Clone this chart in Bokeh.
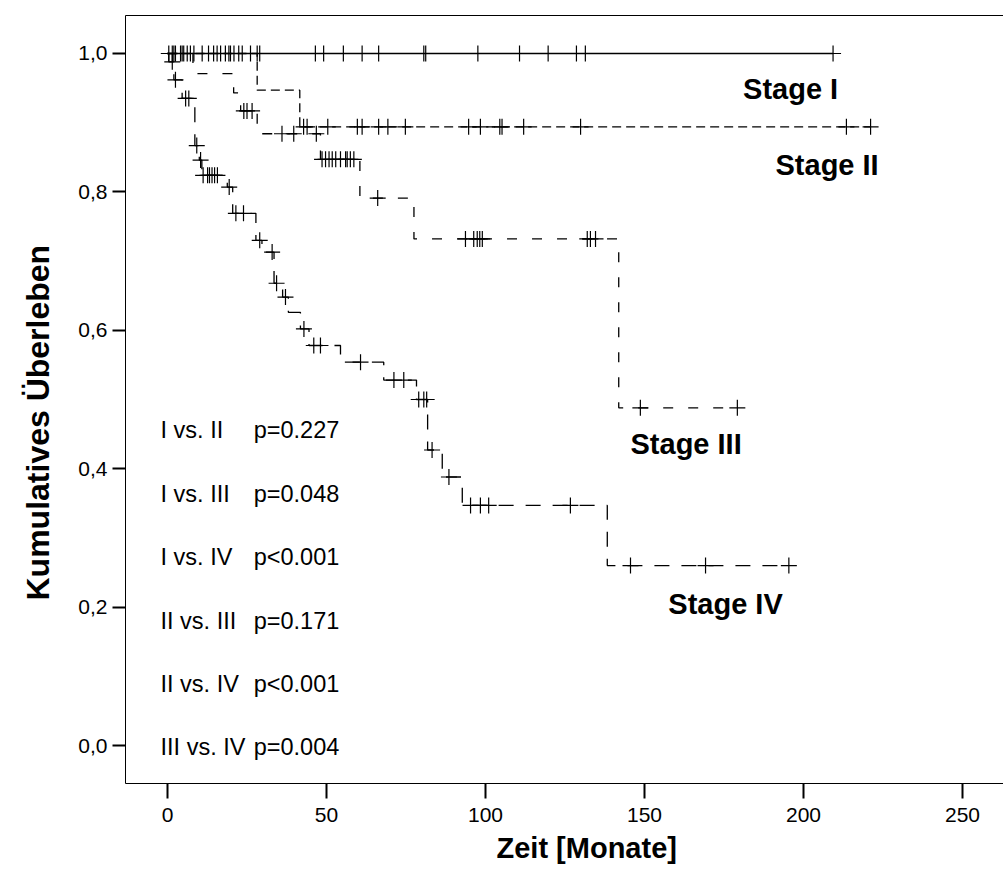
import numpy as np
from bokeh.plotting import figure
from bokeh.models import Range1d, FixedTicker, CustomJSTickFormatter, LinearAxis, Title
from bokeh.core.properties import value
from bokeh.embed import file_html
from bokeh.resources import INLINE

FONT = "Liberation Sans"

# ---------------- data (months, cumulative survival) ----------------
stage1_end = 209.3
stage1_censor = [0.4, 1.5, 2.0, 2.5, 4.1, 4.6, 5.1, 6.2, 7.2, 8.3, 10.9, 12.9, 14.5, 15.6,
                 16.7, 18.2, 19.3, 19.8, 20.9, 22.4, 23.5, 26.1, 28.2, 29.0, 46.5, 49.1,
                 55.3, 61.2, 66.4, 80.6, 81.2, 97.6, 110.7, 119.7, 128.6, 131.4, 209.3]

stage2_times = [28.2, 41.6]
stage2_surv = [0.947, 0.894]
stage2_end = 221.1
stage2_censor = [42.8, 43.9, 50.4, 59.7, 61.2, 66.4, 69.3, 74.8, 94.7, 98.4, 104.5, 105.2,
                 112.0, 129.9, 213.5, 221.1]

stage3_times = [8.0, 20.8, 23.0, 28.2, 48.1, 60.5, 77.5, 141.9]
stage3_surv = [0.971, 0.943, 0.917, 0.884, 0.847, 0.791, 0.732, 0.488]
stage3_end = 179.2
stage3_censor = [24.0, 25.0, 26.6, 36.0, 39.7, 46.8, 48.6, 49.7, 50.8, 51.8, 52.9, 54.4, 56.0,
                 56.5, 57.5, 58.6, 66.1, 93.7, 96.3, 97.4, 98.2, 99.0, 132.0, 133.0, 134.6,
                 148.7, 179.2]

stage4_times = [0.4, 2.0, 4.6, 8.6, 10.0, 10.8, 18.8, 20.5, 27.8, 29.7, 33.5, 36.2, 38.0,
                41.8, 44.5, 54.4, 68.0, 78.3, 81.8, 86.4, 92.7, 138.3]
stage4_surv = [0.988, 0.962, 0.935, 0.867, 0.846, 0.824, 0.807, 0.769, 0.730, 0.713, 0.668,
               0.648, 0.626, 0.602, 0.578, 0.554, 0.528, 0.500, 0.427, 0.388, 0.347, 0.260]
stage4_end = 195.4
stage4_censor = [1.5, 2.5, 5.7, 6.7, 9.2, 10.4, 11.2, 12.6, 13.2, 14.0, 14.8, 15.7, 19.4,
                 21.5, 23.9, 29.0, 32.9, 34.3, 37.1, 42.9, 46.0, 48.1, 60.7, 71.2, 74.3, 79.0,
                 80.6, 81.5, 83.2, 88.5, 95.3, 98.4, 101.0, 126.7, 145.6, 169.2, 195.4]

stage_labels = ["Stage I", "Stage II", "Stage III", "Stage IV"]
stage_label_x = [181.0, 191.2, 145.6, 157.5]
stage_label_y = [0.948, 0.839, 0.436, 0.205]

cmp_labels = ["I vs. II", "I vs. III", "I vs. IV", "II vs. III", "II vs. IV", "III vs. IV"]
cmp_pvalues = ["p=0.227", "p=0.048", "p<0.001", "p=0.171", "p<0.001", "p=0.004"]

y_ticks = [0.0, 0.2, 0.4, 0.6, 0.8, 1.0]
x_ticks = [0, 50, 100, 150, 200, 250]

x_title = "Zeit [Monate]"
y_title = "Kumulatives Überleben"


def step_xy(times, surv, end):
    xs = [0.0] + list(times) + [end]
    ys = [1.0] + list(surv) + [surv[-1] if surv else 1.0]
    return xs, ys


def surv_at(times, surv, t):
    t_arr = np.asarray(times)
    s_arr = np.asarray([1.0] + list(surv))
    idx = np.searchsorted(t_arr, np.asarray(t), side="right")
    return s_arr[idx]


p = figure(width=1003, height=874, output_backend="svg", toolbar_location=None,
           x_range=Range1d(-13.21, 262.9), y_range=Range1d(-0.0549, 1.0549),
           min_border_left=125, min_border_right=0, min_border_top=15, min_border_bottom=91)
p.outline_line_color = None
p.xgrid.visible = False
p.ygrid.visible = False
p.background_fill_color = None
p.border_fill_color = "white"

xa = p.below[0]
ya = p.left[0]
xa.ticker = FixedTicker(ticks=x_ticks)
ya.ticker = FixedTicker(ticks=y_ticks)
ya.formatter = CustomJSTickFormatter(code="return tick.toFixed(1).replace('.', ',');")
for ax in (xa, ya):
    ax.axis_line_color = "black"
    ax.axis_line_width = 1
    ax.major_tick_line_color = "black"
    ax.major_tick_line_width = 2
    ax.major_tick_in = 0
    ax.minor_tick_line_color = None
    ax.minor_tick_out = 0
    ax.major_label_text_font = FONT
    ax.major_label_text_font_size = "21px"
    ax.major_label_text_color = "black"
xa.major_tick_out = 15
xa.major_label_standoff = 9
ya.major_tick_out = 13
ya.major_label_standoff = 5

# top border as an empty axis
top = LinearAxis(ticker=FixedTicker(ticks=[]), major_tick_out=0, major_tick_in=0,
                 minor_tick_out=0, minor_tick_in=0, major_label_standoff=0,
                 major_label_text_font_size="0px", axis_line_color="black", axis_line_width=1,
                 major_tick_line_color=None, minor_tick_line_color=None)
p.add_layout(top, "above")

# axis titles
p.add_layout(Title(text=x_title, align="left", offset=371, text_font=FONT,
                   text_font_style="bold", text_font_size="29px", text_color="black",
                   standoff=10), "below")
p.add_layout(Title(text=y_title, align="left", offset=183, vertical_align="top",
                   text_font=FONT, text_font_style="bold", text_font_size="32px",
                   text_color="black", standoff=36), "left")

LW = 1.3
# Stage I (solid)
p.line([0.0, stage1_end], [1.0, 1.0], line_color="black", line_width=LW)
p.scatter(stage1_censor, [1.0] * len(stage1_censor), marker="cross", size=16,
          line_color="black", line_width=1.2)

# Stage II-IV (dashed step curves)
for times, surv, end, cens, dash in [
        (stage2_times, stage2_surv, stage2_end, stage2_censor, "9 5"),
        (stage3_times, stage3_surv, stage3_end, stage3_censor, "10 15"),
        (stage4_times, stage4_surv, stage4_end, stage4_censor, "15 12")]:
    xs, ys = step_xy(times, surv, end)
    p.step(xs, ys, mode="after", line_color="black", line_width=LW, line_dash=dash)
    p.scatter(cens, surv_at(times, surv, cens), marker="cross", size=16,
              line_color="black", line_width=1.2)

# stage labels
p.text(x=stage_label_x, y=stage_label_y, text=stage_labels, text_font=value(FONT),
       text_font_style="bold", text_font_size="29px", text_color="black",
       text_align="left", text_baseline="alphabetic")

# comparison p-values
row_y = [0.4553 - 0.0916 * i for i in range(len(cmp_labels))]
p.text(x=[-2.2] * len(cmp_labels), y=row_y, text=cmp_labels, text_font=value(FONT),
       text_font_size="23.5px", text_color="black", text_align="left", text_baseline="alphabetic")
p.text(x=[27.1] * len(cmp_pvalues), y=row_y, text=cmp_pvalues, text_font=value(FONT),
       text_font_size="23.5px", text_color="black", text_align="left", text_baseline="alphabetic")

open("out.html", "w").write(file_html(p, INLINE))
